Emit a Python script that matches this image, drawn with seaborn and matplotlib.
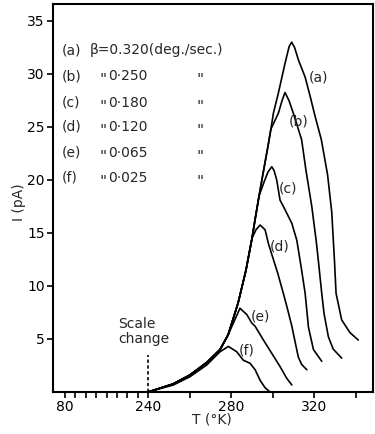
import numpy as np
import pandas as pd
import matplotlib
matplotlib.use('Agg')
import matplotlib.pyplot as plt
import seaborn as sns
from matplotlib.ticker import FixedLocator

# Glow curves I(T) for six heating rates.
# Common rising edge shared by the curves before they break away
env_T = [240, 252.0, 260.2, 268.4, 274.7, 278.6, 283.4, 287.2, 290.1, 291.6, 293.5, 295.4, 297.8, 299.2]
env_I = [0, 0.75, 1.6, 2.8, 4.0, 5.4, 8.4, 11.5, 14.5, 16.3, 18.5, 20.6, 23.2, 24.8]

a_T = [300.4, 302.8, 306.0, 308.0, 309.2, 310.6, 312.5, 315.7, 318.1, 320.5, 323.5, 326.5, 328.5, 329.8, 330.6, 333.3, 337.3, 341.3]
a_I = [26.3, 28.2, 31.0, 32.6, 33.0, 32.5, 31.3, 29.7, 27.9, 26.0, 23.8, 20.5, 17.0, 12.5, 9.3, 6.8, 5.6, 4.9]

b_T = [302.8, 304.6, 306.0, 307.9, 310.0, 314.0, 316.1, 318.9, 321.0, 322.0, 323.7, 324.8, 326.9, 329.2, 333.3]
b_I = [26.3, 27.5, 28.25, 27.5, 26.3, 23.8, 20.9, 17.5, 14.3, 12.5, 9.3, 7.4, 5.2, 4.05, 3.2]

c_T = [295.9, 297.8, 299.6, 300.7, 302.0, 303.6, 306.0, 309.3, 311.7, 314.0, 315.7, 317.3, 319.7, 323.7]
c_I = [19.8, 20.75, 21.25, 20.9, 20.0, 18.1, 17.2, 15.9, 14.3, 11.5, 9.3, 6.1, 4.0, 2.9]

d_T = [292.0, 294.0, 296.4, 298.0, 300.4, 302.5, 305.2, 307.5, 309.3, 311.0, 312.4, 314.0, 316.5]
d_I = [15.3, 15.75, 15.3, 14.0, 12.5, 11.2, 9.3, 7.6, 6.2, 4.6, 3.3, 2.6, 2.1]

e_T = [281.1, 284.3, 287.6, 290.0, 291.6, 295.6, 299.6, 303.6, 306.8, 309.3]
e_I = [6.5, 7.9, 7.3, 6.5, 6.2, 4.9, 3.65, 2.4, 1.3, 0.66]

f_T = [252.2, 260.2, 268.3, 274.7, 278.7, 282.7, 285.9, 289.2, 291.6, 294.0, 296.4, 298.8]
f_I = [0.66, 1.44, 2.55, 3.8, 4.3, 3.8, 3.0, 2.7, 2.1, 1.1, 0.4, 0.0]

curve_names = ['(a)', '(b)', '(c)', '(d)', '(e)', '(f)']
rates = ['0.320', '0·250', '0·180', '0·120', '0·065', '0·025']
label_T = [322.1, 312.5, 307.5, 303.6, 294.0, 287.5]
label_I = [29.7, 25.5, 19.2, 13.7, 7.1, 3.96]

tails = [(a_T, a_I), (b_T, b_I), (c_T, c_I), (d_T, d_I), (e_T, e_I), (f_T, f_I)]
rows = []
for name, (tt, ii) in zip(curve_names, tails):
    # follow the common edge until the curve's own branch starts
    for t, i in zip(env_T, env_I):
        if i < ii[0] and t < tt[0]:
            rows.append((name, t, i))
    for t, i in zip(tt, ii):
        rows.append((name, t, i))
df = pd.DataFrame(rows, columns=['curve', 'T', 'I'])

# axis is compressed 4x below 240 K ("scale change")
def fwd(t):
    t = np.asarray(t, dtype=float)
    return np.where(t < 240, 240 - (240 - t) / 4, t)

def inv(t):
    t = np.asarray(t, dtype=float)
    return np.where(t < 240, 240 - (240 - t) * 4, t)

sns.set_style('ticks')
plt.rcParams['font.family'] = ['DejaVu Sans']
plt.rcParams['font.size'] = 10

fig = plt.figure(figsize=(3.75, 4.34), dpi=100)
ax = fig.add_axes([0.1413, 0.0968, 0.8534, 0.894])

sns.lineplot(data=df, x='T', y='I', units='curve', estimator=None, sort=False,
             color='black', lw=1.2, legend=False, ax=ax)

ax.set_xscale('function', functions=(fwd, inv))
ax.set_xlim(56.8, 348.4)
ax.set_ylim(0, 36.6)

ax.xaxis.set_major_locator(FixedLocator([80, 240, 280, 320]))
ax.xaxis.set_minor_locator(FixedLocator([100, 120, 140, 160, 180, 200, 220, 260, 300, 340]))
ax.set_yticks([5, 10, 15, 20, 25, 30, 35])
ax.tick_params(which='both', direction='out', length=4, width=1.2, labelsize=10, pad=2, colors='black')

for sp in ax.spines.values():
    sp.set_linewidth(1.5)
    sp.set_color('black')

ax.set_xlabel('T (°K)', fontsize=10)
ax.set_ylabel('I (pA)', fontsize=10)
ax.xaxis.set_label_coords(0.497, -0.054)
ax.yaxis.set_label_coords(-0.085, 0.49)

# scale change marker
ax.plot([240, 240], [0, 3.5], color='black', lw=1.2, ls=(0, (2, 1.5)))
ax.text(0.203, 0.157, 'Scale\nchange', transform=ax.transAxes, ha='left', va='center',
        fontsize=10, linespacing=1.1)

# curve labels
for name, t, i in zip(curve_names, label_T, label_I):
    ax.text(t, i, name, ha='center', va='center', fontsize=10)

# heating-rate key
key_y = [0.881, 0.814, 0.745, 0.683, 0.616, 0.552]
for k, (name, r) in enumerate(zip(curve_names, rates)):
    y = key_y[k]
    ax.text(0.028, y, name, transform=ax.transAxes, ha='left', va='center', fontsize=10)
    if k == 0:
        ax.text(0.116, y, 'β=' + r + '(deg./sec.)', transform=ax.transAxes, ha='left', va='center', fontsize=10)
    else:
        ax.text(0.145, y - 0.012, '"', transform=ax.transAxes, ha='left', va='center', fontsize=11)
        ax.text(0.172, y, r, transform=ax.transAxes, ha='left', va='center', fontsize=10)
        ax.text(0.45, y - 0.012, '"', transform=ax.transAxes, ha='left', va='center', fontsize=11)

fig.savefig('out.png', dpi=100)
